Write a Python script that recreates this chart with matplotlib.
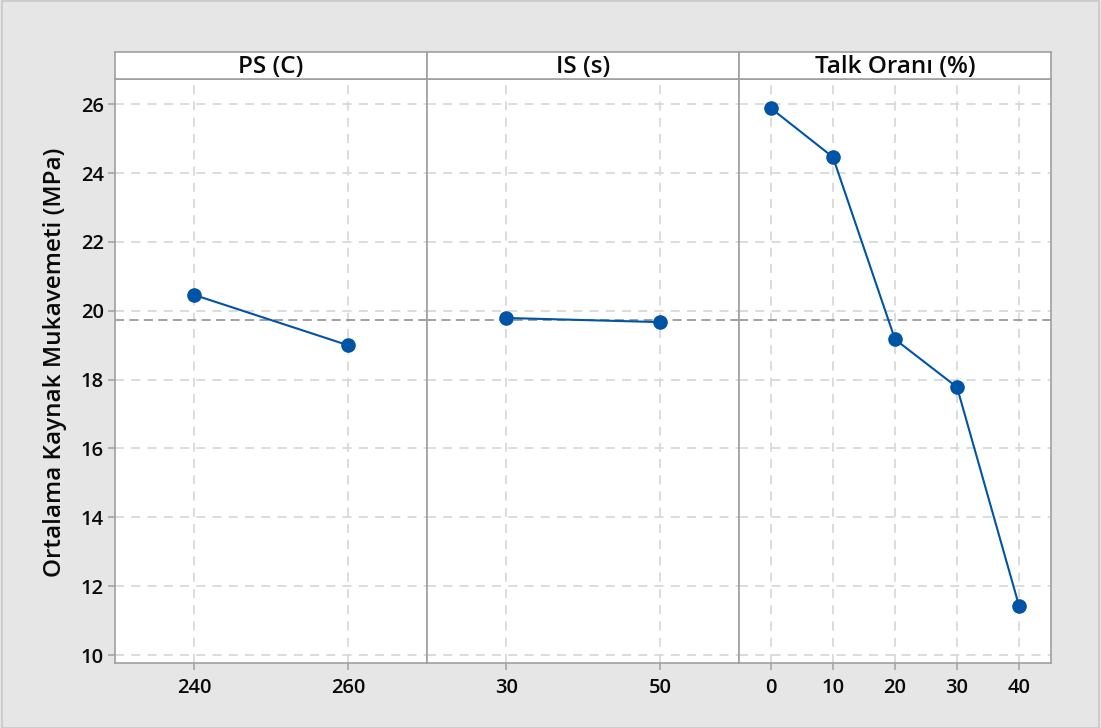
import matplotlib
matplotlib.use("Agg")
import matplotlib.pyplot as plt
from matplotlib.patches import Rectangle

# Main effects: mean weld strength per factor level
factor_titles = ["PS (C)", "IS (s)", "Talk Oranı (%)"]
ps_levels = ["240", "260"]
ps_means = [20.46, 19.00]
is_levels = ["30", "50"]
is_means = [19.79, 19.67]
talk_levels = ["0", "10", "20", "30", "40"]
talk_means = [25.88, 24.46, 19.17, 17.78, 11.43]
grand_mean = 19.73
y_ticks = [10, 12, 14, 16, 18, 20, 22, 24, 26]
y_label = "Ortalama Kaynak Mukavemeti (MPa)"

panels = [(ps_levels, ps_means), (is_levels, is_means), (talk_levels, talk_means)]

W, H = 1101, 728
fig = plt.figure(figsize=(W / 100, H / 100), dpi=100)
fig.patch.set_facecolor("#e6e6e6")
fig.patches.append(Rectangle((2 / W, 0), 1 - 4 / W, 1 - 1 / H, transform=fig.transFigure,
                             fill=False, edgecolor="#c8c8c8", linewidth=1.2))

font = ["Open Sans", "DejaVu Sans"]
line_col = "#0054a6"
spine_col = "#a0a0a0"
grid_col = "#d9d9d9"
text_col = "#0a0a0a"

left_px, right_px = 115, 1051
top_px, strip_bot_px, bot_px = 52, 79, 663
pw = (right_px - left_px) / 3

for i, ((levels, means), title) in enumerate(zip(panels, factor_titles)):
    x0 = left_px + i * pw
    ax = fig.add_axes([x0 / W, (H - bot_px) / H, pw / W, (bot_px - strip_bot_px) / H])
    pos = list(range(len(levels)))
    ax.set_xlim(-0.515, len(levels) - 1 + 0.515)
    ax.set_ylim(9.77, 26.73)
    ax.set_xticks(pos)
    ax.set_xticklabels(levels)
    ax.set_yticks(y_ticks)
    ax.grid(True, color=grid_col, linestyle=(0, (5, 4)), linewidth=1.3)
    ax.set_axisbelow(True)
    ax.axhline(grand_mean, color="#9a9a9a", linestyle=(0, (5, 3)), linewidth=1.3, zorder=1.5)
    ax.plot(pos, means, color=line_col, linewidth=1.5, marker="o", markersize=9.5,
            markerfacecolor=line_col, markeredgecolor=line_col, zorder=3)
    for side, sp in ax.spines.items():
        sp.set_color(spine_col)
        sp.set_linewidth(1.2)
    ax.tick_params(axis="both", colors=spine_col, length=5, width=1.1,
                   labelcolor=text_col, labelsize=14.5)
    for lab in ax.get_xticklabels() + ax.get_yticklabels():
        lab.set_fontfamily(font)
        lab.set_fontweight("semibold")
    ax.tick_params(axis="x", pad=6)
    ax.tick_params(axis="y", pad=3)
    if i == 0:
        ax.set_ylabel(y_label, fontsize=17.5, fontfamily=font, fontweight="semibold",
                      color=text_col)
        ax.yaxis.set_label_coords(-0.155, 0.515)
    else:
        ax.tick_params(axis="y", left=False, labelleft=False)
    ax.set_facecolor("white")

    sax = fig.add_axes([x0 / W, (H - strip_bot_px) / H, pw / W, (strip_bot_px - top_px) / H])
    sax.set_xticks([])
    sax.set_yticks([])
    sax.set_facecolor("white")
    for sp in sax.spines.values():
        sp.set_color(spine_col)
        sp.set_linewidth(1.2)
    sax.text(0.5, 0.45, title, transform=sax.transAxes, ha="center", va="center",
             fontsize=17.5, fontfamily=font, fontweight="semibold", color=text_col)

fig.savefig("out.png", dpi=100, facecolor=fig.get_facecolor())
